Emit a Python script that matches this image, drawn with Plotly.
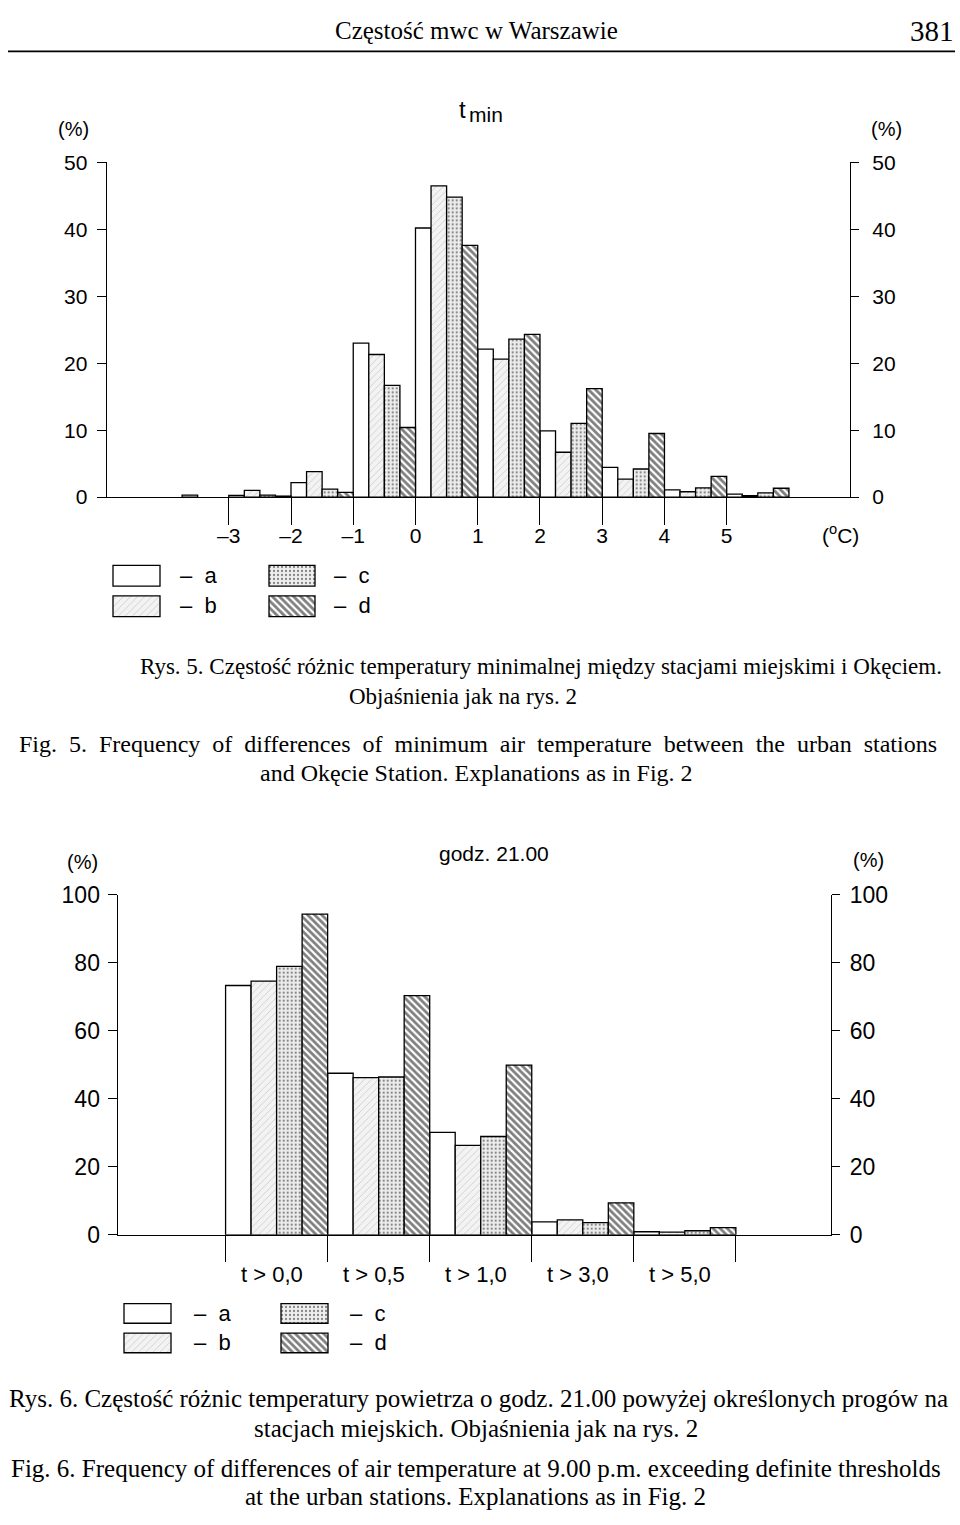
import plotly.graph_objects as go

# ---------------- data ----------------
# Fig. 5: frequency (%) of differences of t_min, bins of 1 deg C (centres)
bins1 = [-3.5, -2.5, -1.5, -0.5, 0.5, 1.5, 2.5, 3.5, 4.5, 5.5]
a1 = [None, 0.25, 2.15, 23.0, 40.2, 22.1, 9.9, 4.45, 1.07, 0.44]
b1 = [0.3, 1.0, 3.8, 21.3, 46.5, 20.6, 6.7, 2.7, 0.8, 0.2]
c1 = [None, 0.3, 1.2, 16.7, 44.8, 23.6, 11.0, 4.2, 1.37, 0.63]
d1 = [None, 0.15, 0.7, 10.4, 37.6, 24.3, 16.2, 9.5, 3.1, 1.32]
ticks1 = [-3, -2, -1, 0, 1, 2, 3, 4, 5]
ticklabels1 = ["–3", "–2", "–1", "0", "1", "2", "3", "4", "5"]
yticks1 = [0, 10, 20, 30, 40, 50]

# Fig. 6: frequency (%) of differences at 21.00 exceeding thresholds
thresholds = ["t > 0,0", "t > 0,5", "t > 1,0", "t > 3,0", "t > 5,0"]
a2 = [73.3, 47.5, 30.1, 3.8, 0.9]
b2 = [74.6, 46.2, 26.3, 4.4, 0.8]
c2 = [78.9, 46.4, 28.9, 3.6, 1.2]
d2 = [94.3, 70.3, 49.9, 9.4, 2.1]
yticks2 = [0, 20, 40, 60, 80, 100]

series_names = ["a", "b", "c", "d"]

# ---------------- styles ----------------
W, H = 960, 1525
SANS = "Liberation Sans, Arial, sans-serif"
SERIF = "Liberation Serif, Times New Roman, serif"
LINE = dict(color="black", width=1.3)

def marker_for(name):
    if name == "a":
        return dict(color="white", line=LINE)
    if name == "b":
        return dict(color="#f3f3f3", line=LINE,
                    pattern=dict(shape="/", fgcolor="#9c9c9c", bgcolor="#f3f3f3",
                                 size=5, solidity=0.15))
    if name == "c":
        return dict(color="#eeeeee", line=LINE,
                    pattern=dict(shape=".", fgcolor="#1a1a1a", bgcolor="#efefef",
                                 size=4, solidity=0.25))
    return dict(color="white", line=LINE,
                pattern=dict(shape="\\", fgcolor="#000000", bgcolor="white",
                             size=5, solidity=0.55))

def px(x):
    return x / W

def py(y):
    return 1 - y / H

fig = go.Figure()

# ---------------- chart 1 bars ----------------
for i, (name, vals) in enumerate(zip(series_names, [a1, b1, c1, d1])):
    fig.add_trace(go.Bar(x=bins1, y=vals, name=name, width=0.25, offset=-0.5 + 0.25 * i,
                         marker=marker_for(name), xaxis="x", yaxis="y", showlegend=False))
# empty trace so that the right-hand axis is drawn
fig.add_trace(go.Scatter(x=[None], y=[None], mode="lines", xaxis="x", yaxis="y2",
                         showlegend=False, hoverinfo="skip"))

# ---------------- chart 2 bars ----------------
pos2 = list(range(len(thresholds)))
for i, (name, vals) in enumerate(zip(series_names, [a2, b2, c2, d2])):
    fig.add_trace(go.Bar(x=pos2, y=vals, name=name, width=0.25, offset=-0.5 + 0.25 * i,
                         marker=marker_for(name), xaxis="x2", yaxis="y3", showlegend=False))
fig.add_trace(go.Scatter(x=[None], y=[None], mode="lines", xaxis="x2", yaxis="y4",
                         showlegend=False, hoverinfo="skip"))

# ---------------- legend swatches (page pixel axis) ----------------
legend_boxes = [
    # (left, right, top, bottom) per legend block: chart1 then chart2
    [(113, 160, 562, 583), (113, 160, 593, 614), (269, 315, 562, 583), (269, 315, 593, 614)],
    [(124, 171, 1313, 1333), (124, 171, 1343, 1363), (281, 328, 1313, 1333), (281, 328, 1343, 1363)],
]
for block in legend_boxes:
    for name, (l, r, t, b) in zip(series_names, block):
        fig.add_trace(go.Bar(x=[(l + r) / 2], y=[b - t], base=[t], width=[r - l],
                             marker=marker_for(name), xaxis="x3", yaxis="y5",
                             showlegend=False, hoverinfo="skip"))

# ---------------- axes ----------------
tickfont1 = dict(family=SANS, size=21, color="black")
tickfont2 = dict(family=SANS, size=23, color="black")

x1_dom = [px(106.7), px(850)]
y1_dom = [py(492.5), py(152)]
x2_dom = [px(117.7), px(831)]
y2_dom = [py(1243), py(897)]

fig.update_layout(
    width=W, height=H,
    margin=dict(l=0, r=0, t=0, b=0),
    paper_bgcolor="white", plot_bgcolor="rgba(0,0,0,0)",
    barmode="overlay",
    xaxis=dict(domain=x1_dom, range=[-4.961, 6.981], anchor="y",
               showline=True, linecolor="black", linewidth=1.3,
               tickmode="array", tickvals=ticks1, ticktext=ticklabels1,
               ticks="outside", ticklen=27, tickwidth=1.3, tickcolor="black",
               tickfont=tickfont1, ticklabelstandoff=-7,
               showgrid=False, zeroline=False, fixedrange=True),
    yaxis=dict(domain=y1_dom, range=[0, 50], anchor="x",
               showline=True, linecolor="black", linewidth=1.3,
               tickmode="array", tickvals=yticks1, ticks="outside", ticklen=9,
               tickwidth=1.3, tickcolor="black", tickfont=tickfont1,
               ticklabelstandoff=5, showgrid=False, zeroline=False),
    yaxis2=dict(range=[0, 50], overlaying="y", side="right", anchor="x",
                showline=True, linecolor="black", linewidth=1.3,
                tickmode="array", tickvals=yticks1, ticks="outside", ticklen=8,
                tickwidth=1.3, tickcolor="black", tickfont=tickfont1,
                ticklabelstandoff=9, showgrid=False, zeroline=False),
    xaxis2=dict(domain=x2_dom, range=[-1.557, 5.432], anchor="y3",
                showline=True, linecolor="black", linewidth=1.3,
                tickmode="array", tickvals=[p - 0.5 for p in pos2] + [pos2[-1] + 0.5],
                showticklabels=False,
                ticks="outside", ticklen=26, tickwidth=1.3, tickcolor="black",
                showgrid=False, zeroline=False),
    yaxis3=dict(domain=y2_dom, range=[0, 100], anchor="x2",
                showline=True, linecolor="black", linewidth=1.3,
                tickmode="array", tickvals=yticks2, ticks="outside", ticklen=9,
                tickwidth=1.3, tickcolor="black", tickfont=tickfont2,
                ticklabelstandoff=3, showgrid=False, zeroline=False),
    yaxis4=dict(range=[0, 100], overlaying="y3", side="right", anchor="x2",
                showline=True, linecolor="black", linewidth=1.3,
                tickmode="array", tickvals=yticks2, ticks="outside", ticklen=8,
                tickwidth=1.3, tickcolor="black", tickfont=tickfont2,
                ticklabelstandoff=5, showgrid=False, zeroline=False),
    xaxis3=dict(domain=[0, 1], range=[0, W], anchor="y5", visible=False),
    yaxis5=dict(domain=[0, 1], range=[H, 0], anchor="x3", visible=False),
)

# ---------------- texts ----------------
ann = []

def text(x, y, s, size, family=SANS, xanchor="center"):
    ann.append(dict(x=px(x), y=py(y), xref="paper", yref="paper", text=s, showarrow=False,
                    xanchor=xanchor, yanchor="middle",
                    font=dict(family=family, size=size, color="black")))

# header
text(476, 18, "Częstość mwc w Warszawie", 25, SERIF)
text(956, 18, "381", 29, SERIF, xanchor="right")

# chart 1 labels
text(462, 98, "t", 24)
text(467, 103, "min", 21, xanchor="left")
text(73, 118, "(%)", 20)
text(886, 118, "(%)", 20)
text(840, 530, "(<sup>o</sup>C)", 21)
for blk_x, names in [(178, ["a", "b"]), (332, ["c", "d"])]:
    for k, n in enumerate(names):
        text(blk_x, 572 + 31 * k, "–  " + n, 22, xanchor="left")

# caption 1
text(541, 665, "Rys. 5. Częstość różnic temperatury minimalnej między stacjami miejskimi i Okęciem.", 23, SERIF)
text(463, 695, "Objaśnienia jak na rys. 2", 23, SERIF)
text(478, 744,
     '<span style="word-spacing:6px">Fig. 5. Frequency of differences of minimum air temperature between the urban stations</span>',
     24, SERIF)
text(476, 773, "and Okęcie Station. Explanations as in Fig. 2", 24, SERIF)

# chart 2 labels
text(494, 855, "godz. 21.00", 21)
text(82, 864, "(%)", 20)
text(868, 862, "(%)", 20)
for p, lab in zip(pos2, thresholds):
    ann.append(dict(x=p - 0.05, y=py(1283), xref="x2", yref="paper", text=lab, showarrow=False,
                    xanchor="center", yanchor="middle",
                    font=dict(family=SANS, size=22, color="black")))
for blk_x, names in [(192, ["a", "b"]), (348, ["c", "d"])]:
    for k, n in enumerate(names):
        text(blk_x, 1323 + 30 * k, "–  " + n, 22, xanchor="left")

# caption 2
text(478, 1410, "Rys. 6. Częstość różnic temperatury powietrza o godz. 21.00 powyżej określonych progów na", 25, SERIF)
text(476, 1440, "stacjach miejskich. Objaśnienia jak na rys. 2", 25, SERIF)
text(476, 1481, "Fig. 6. Frequency of differences of air temperature at 9.00 p.m. exceeding definite thresholds", 25, SERIF)
text(475, 1509, "at the urban stations. Explanations as in Fig. 2", 25, SERIF)

fig.update_layout(annotations=ann)

# header rule
fig.add_shape(type="line", xref="paper", yref="paper", x0=px(8), x1=px(955), y0=py(39), y1=py(39),
              line=dict(color="black", width=1.6))

fig.write_html("out.html")
